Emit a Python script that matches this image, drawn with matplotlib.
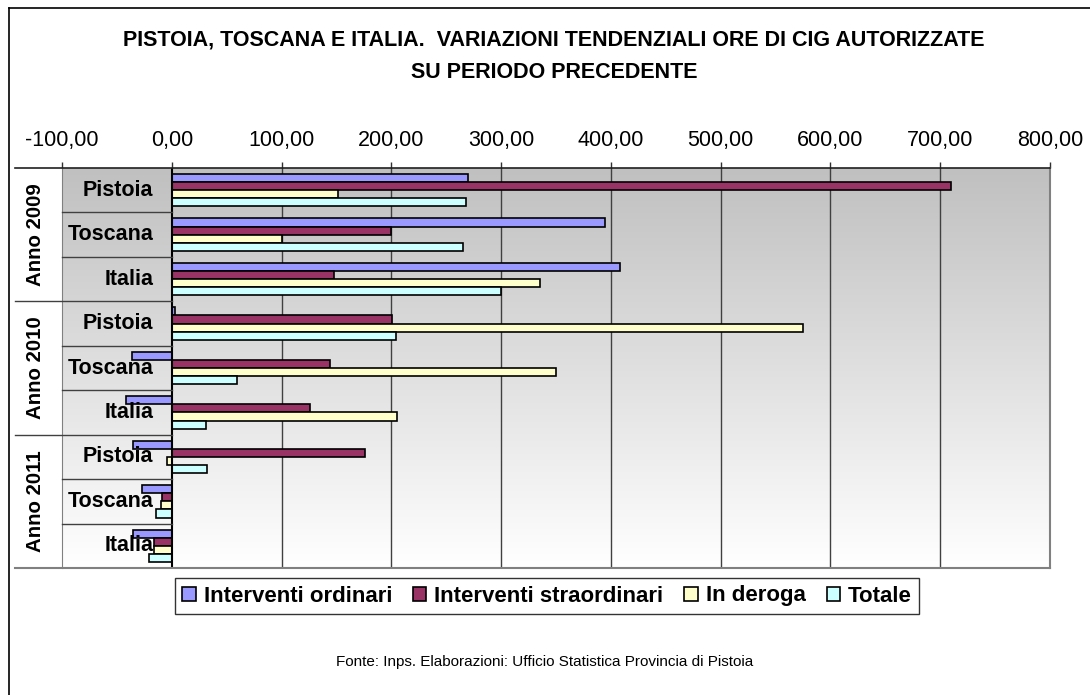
import matplotlib
matplotlib.use("Agg")
import matplotlib.pyplot as plt
import numpy as np
from matplotlib.lines import Line2D
from matplotlib.patches import Patch

plt.rcParams['font.family'] = ['Liberation Sans', 'DejaVu Sans']

# Data
years = ["Anno 2009", "Anno 2010", "Anno 2011"]
places = ["Pistoia", "Toscana", "Italia"]
series = ["Interventi ordinari", "Interventi straordinari", "In deroga", "Totale"]
ordinari = [270, 395, 408, 3, -36, -42, -35, -27, -35]
straordinari = [710, 200, 148, 201, 144, 126, 176, -9, -16]
deroga = [151, 100, 335, 575, 350, 205, -4.5, -10, -16]
totale = [268, 265, 300, 204, 59, 31, 32, -14, -21]
colors = ["#9999ff", "#993366", "#ffffcc", "#ccffff"]
xticks = [-100, 0, 100, 200, 300, 400, 500, 600, 700, 800]

W, H = 1090, 695
fig = plt.figure(figsize=(W / 100, H / 100), dpi=100)
ax = fig.add_axes([62 / W, 1 - 568 / H, (1050 - 62) / W, (568 - 168) / H])

n = len(ordinari)
ax.set_xlim(-100, 800)
ax.set_ylim(n, 0)

# gradient background
grad = np.linspace(0, 1, 256).reshape(-1, 1)
ax.imshow(grad, cmap=matplotlib.colors.LinearSegmentedColormap.from_list(
    "g", ["#c0c0c0", "#ffffff"]), extent=(-100, 800, n, 0), aspect="auto", zorder=0)

# bars
bh = 0.182
ys = np.arange(n) + 0.5
for k, (vals, c) in enumerate(zip([ordinari, straordinari, deroga, totale], colors)):
    ax.barh(ys + (k - 1.5) * bh, vals, height=bh, color=c, edgecolor="black",
            linewidth=1.2, zorder=3)

# grid lines
for v in xticks[2:-1]:
    ax.axvline(v, color="#404040", lw=1, zorder=1)
ax.axvline(0, color="black", lw=1.5, zorder=4)

# category cells
xl = (15 - 172.3) / 1.1
for i in range(1, n):
    x0 = xl if i % 3 == 0 else -100
    ax.plot([x0, 0], [i, i], color="#404040", lw=1, clip_on=False, zorder=4)
ax.plot([xl, 800], [0, 0], color="#202020", lw=1.2, clip_on=False, zorder=4)
ax.plot([xl, 800], [n, n], color="#808080", lw=1.5, clip_on=False, zorder=4)

for i in range(n):
    ax.text(-16.6, i + 0.5, places[i % 3], ha="right", va="center",
            fontsize=15.5, fontweight="bold", zorder=5)
for j, yr in enumerate(years):
    ax.text(-124, j * 3 + 1.5, yr, rotation=90, ha="center", va="center",
            fontsize=14.7, fontweight="bold", clip_on=False)

for s in ["top", "bottom"]:
    ax.spines[s].set_visible(False)
ax.spines["left"].set_color("#808080")
ax.spines["right"].set_color("#808080")
ax.spines["right"].set_linewidth(1.5)

ax.xaxis.tick_top()
ax.set_xticks(xticks)
ax.set_xticklabels([f"{v:.2f}".replace(".", ",") for v in xticks], fontsize=15.5)
ax.tick_params(axis="x", direction="out", length=4.5, width=1, pad=8, color="#303030")
ax.set_yticks([])

fig.text(554 / W, 1 - 40 / H, "PISTOIA, TOSCANA E ITALIA.  VARIAZIONI TENDENZIALI ORE DI CIG AUTORIZZATE",
         ha="center", va="center", fontsize=15.5, fontweight="bold")
fig.text(554 / W, 1 - 72 / H, "SU PERIODO PRECEDENTE", ha="center", va="center",
         fontsize=15.5, fontweight="bold")

handles = [Patch(facecolor=c, edgecolor="black", linewidth=1.2) for c in colors]
leg = fig.legend(handles, series, loc="center", bbox_to_anchor=(547 / W, 1 - 596 / H),
                 ncol=4, frameon=True, fancybox=False, edgecolor="black",
                 prop={"size": 16, "weight": "bold"}, handlelength=0.6, handleheight=0.6,
                 handletextpad=0.35, columnspacing=0.95, borderpad=0.35)
leg.get_frame().set_linewidth(1)

fig.text(0.5, 1 - 662 / H, "Fonte: Inps. Elaborazioni: Ufficio Statistica Provincia di Pistoia",
         ha="center", va="center", fontsize=11)

# outer border (left and top edges visible)
fig.add_artist(Line2D([9 / W, 9 / W], [0, 1 - 8 / H], color="black", lw=1.2))
fig.add_artist(Line2D([9 / W, 1], [1 - 8 / H, 1 - 8 / H], color="black", lw=1.2))

fig.savefig("out.png", dpi=100)
